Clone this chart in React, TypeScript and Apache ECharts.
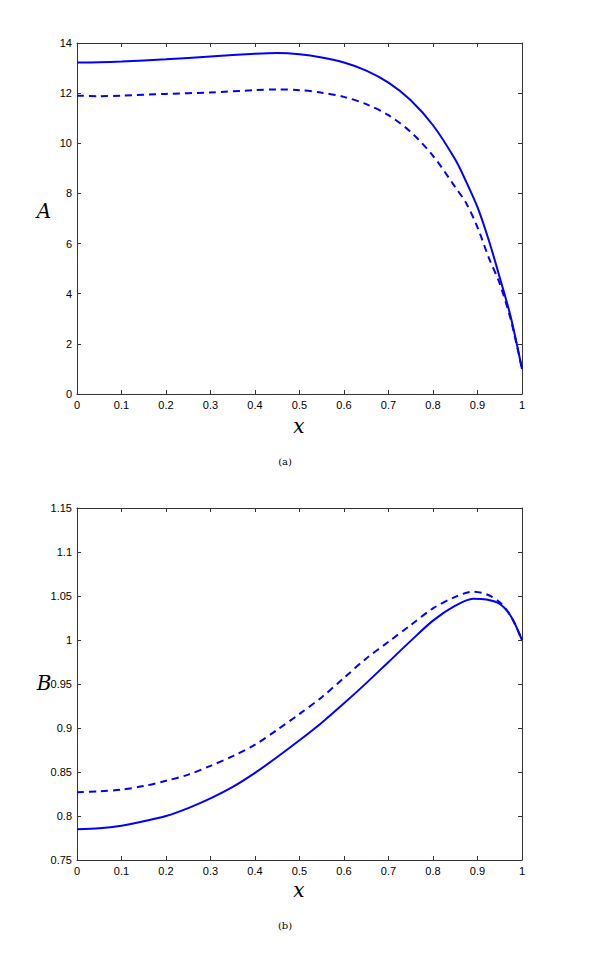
import React, { useEffect, useRef } from "react";
import * as echarts from "echarts";

// Panel (a): A(x)
const aX = [0, 0.05, 0.1, 0.2, 0.3, 0.4, 0.45, 0.5, 0.55, 0.6, 0.65, 0.7, 0.75, 0.8, 0.85, 0.875, 0.9, 0.925, 0.95, 0.975, 1.0];
const aSolid = [13.22, 13.23, 13.26, 13.35, 13.46, 13.57, 13.6, 13.55, 13.42, 13.22, 12.9, 12.42, 11.72, 10.72, 9.35, 8.45, 7.45, 6.15, 4.65, 3.05, 1.0];
const aDashed = [11.9, 11.88, 11.9, 11.97, 12.03, 12.12, 12.15, 12.12, 12.02, 11.85, 11.56, 11.12, 10.45, 9.5, 8.25, 7.6, 6.65, 5.45, 4.4, 2.95, 1.0];

// Panel (b): B(x)
const bX = [0, 0.05, 0.1, 0.15, 0.2, 0.25, 0.3, 0.35, 0.4, 0.45, 0.5, 0.55, 0.6, 0.65, 0.7, 0.75, 0.8, 0.85, 0.89, 0.92, 0.95, 0.975, 1.0];
const bSolid = [0.785, 0.786, 0.789, 0.794, 0.8, 0.809, 0.82, 0.833, 0.849, 0.867, 0.886, 0.906, 0.928, 0.951, 0.975, 0.999, 1.022, 1.039, 1.047, 1.046, 1.041, 1.027, 1.0];
const bDashed = [0.827, 0.828, 0.83, 0.834, 0.84, 0.847, 0.857, 0.868, 0.881, 0.898, 0.916, 0.935, 0.957, 0.979, 0.998, 1.017, 1.036, 1.049, 1.055, 1.052, 1.043, 1.027, 1.0];

const xTicks = { min: 0, max: 1, interval: 0.1 };
const aTicks = { min: 0, max: 14, interval: 2 };
const bTicks = { min: 0.75, max: 1.15, interval: 0.05 };

const pair = (xs: number[], ys: number[]) => xs.map((x, i) => [x, ys[i]]);

export default function App() {
  const ref = useRef<HTMLDivElement>(null);
  useEffect(() => {
    if (!ref.current) return;
    const chart = echarts.init(ref.current, null, { renderer: "svg" });
    const axisColor = "#333";
    const labelStyle = { color: "#000", fontFamily: "Liberation Sans, Arial, sans-serif", fontSize: 11 };
    const mkX = (gridIndex: number, position: "bottom" | "top", labels: boolean) => ({
      type: "value",
      gridIndex,
      position,
      ...xTicks,
      axisLine: { show: true, onZero: false, lineStyle: { color: axisColor, width: 1 } },
      axisTick: { show: true, inside: true, length: 4, lineStyle: { color: axisColor } },
      axisLabel: labels ? { show: true, margin: 5, ...labelStyle } : { show: false },
      splitLine: { show: false },
    });
    const mkY = (gridIndex: number, position: "left" | "right", labels: boolean, t: any) => ({
      type: "value",
      gridIndex,
      position,
      ...t,
      axisLine: { show: true, onZero: false, lineStyle: { color: axisColor, width: 1 } },
      axisTick: { show: true, inside: true, length: 4, lineStyle: { color: axisColor } },
      axisLabel: labels ? { show: true, margin: 5, ...labelStyle } : { show: false },
      splitLine: { show: false },
    });
    const lineBase = { type: "line", showSymbol: false, smooth: 0.3, color: "#0000ff" };
    const big = "italic 20px 'DejaVu Serif', serif";
    const small = "10px 'DejaVu Serif', serif";
    chart.setOption({
      animation: false,
      backgroundColor: "#fff",
      grid: [
        { left: 77, top: 43, width: 445, height: 351 },
        { left: 77, top: 508, width: 445, height: 352 },
      ],
      xAxis: [mkX(0, "bottom", true), mkX(0, "top", false), mkX(1, "bottom", true), mkX(1, "top", false)],
      yAxis: [
        mkY(0, "left", true, aTicks),
        mkY(0, "right", false, aTicks),
        mkY(1, "left", true, bTicks),
        mkY(1, "right", false, bTicks),
      ],
      series: [
        { ...lineBase, name: "A solid", xAxisIndex: 0, yAxisIndex: 0, data: pair(aX, aSolid), lineStyle: { color: "#0000ff", width: 2 } },
        { ...lineBase, name: "A dashed", xAxisIndex: 0, yAxisIndex: 0, data: pair(aX, aDashed), lineStyle: { color: "#0000ff", width: 2, type: [7, 5] } },
        { ...lineBase, name: "B solid", xAxisIndex: 2, yAxisIndex: 2, data: pair(bX, bSolid), lineStyle: { color: "#0000ff", width: 2 } },
        { ...lineBase, name: "B dashed", xAxisIndex: 2, yAxisIndex: 2, data: pair(bX, bDashed), lineStyle: { color: "#0000ff", width: 2, type: [7, 5] } },
      ],
      graphic: [
        { type: "text", x: 44, y: 211, style: { text: "A", font: big, fill: "#000", textAlign: "center", textVerticalAlign: "middle" } },
        { type: "text", x: 299, y: 426, style: { text: "x", font: big, fill: "#000", textAlign: "center", textVerticalAlign: "middle" } },
        { type: "text", x: 285, y: 461, style: { text: "(a)", font: small, fill: "#000", textAlign: "center", textVerticalAlign: "middle" } },
        { type: "text", x: 44, y: 683, style: { text: "B", font: big, fill: "#000", textAlign: "center", textVerticalAlign: "middle" } },
        { type: "text", x: 299, y: 890, style: { text: "x", font: big, fill: "#000", textAlign: "center", textVerticalAlign: "middle" } },
        { type: "text", x: 285, y: 925, style: { text: "(b)", font: small, fill: "#000", textAlign: "center", textVerticalAlign: "middle" } },
      ],
    });
    return () => chart.dispose();
  }, []);
  return <div ref={ref} style={{ position: "absolute", left: 0, top: 0, width: 600, height: 971 }} />;
}
